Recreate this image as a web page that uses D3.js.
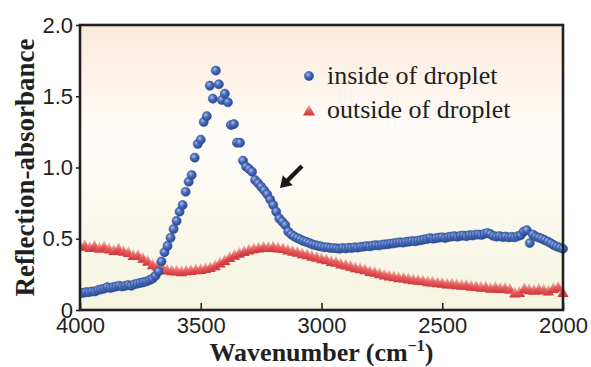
<!DOCTYPE html>
<html><head><meta charset="utf-8">
<script src="https://cdn.jsdelivr.net/npm/d3@7"></script>
<style>
html,body{margin:0;padding:0;background:#fff;}
svg{display:block;}
</style></head>
<body>
<svg id="chart" width="591" height="367"></svg>
<script>
// ---------- data ----------
const xTicks = [4000, 3500, 3000, 2500, 2000];
const yTicks = [0, 0.5, 1.0, 1.5, 2.0];
const yTickLabels = ["0", "0.5", "1.0", "1.5", "2.0"];
const seriesNames = ["inside of droplet", "outside of droplet"];

// inside of droplet: wavenumber grid 4000 -> 2000, step 12.5 cm-1
const insideStart = 4000, insideStep = 12.5;
const insideValues = [
 0.12,0.12,0.125,0.125,0.13,0.13,0.14,0.145,0.15,0.16,
 0.155,0.16,0.165,0.17,0.165,0.17,0.175,0.17,0.18,0.185,
 0.19,0.195,0.2,0.21,0.22,0.24,0.27,0.34,0.405,0.45,
 0.507,0.568,0.625,0.69,0.737,0.83,0.9,0.947,1.069,1.165,
 1.195,1.32,1.36,1.574,1.483,1.68,1.584,1.474,1.518,1.458,
 1.298,1.305,1.174,1.174,1.048,1.006,0.99,0.97,0.912,0.89,
 0.865,0.84,0.812,0.775,0.737,0.69,0.643,0.62,0.596,0.55,
 0.53,0.515,0.505,0.495,0.485,0.478,0.47,0.46,0.455,0.45,
 0.445,0.44,0.44,0.435,0.435,0.433,0.43,0.435,0.432,0.437,
 0.435,0.44,0.438,0.443,0.445,0.449,0.447,0.452,0.455,0.453,
 0.458,0.46,0.462,0.466,0.468,0.472,0.475,0.473,0.478,0.48,
 0.484,0.482,0.487,0.49,0.495,0.498,0.505,0.5,0.505,0.508,
 0.51,0.506,0.512,0.515,0.518,0.514,0.52,0.522,0.518,0.525,
 0.523,0.528,0.53,0.527,0.535,0.54,0.532,0.52,0.515,0.518,
 0.512,0.515,0.51,0.513,0.51,0.518,0.525,0.55,0.56,0.47,
 0.53,0.515,0.508,0.5,0.49,0.48,0.468,0.455,0.445,0.438,
 0.43
];

// outside of droplet: wavenumber grid 4000 -> 2000, step 20 cm-1
const outsideStart = 4000, outsideStep = 20;
const outsideValues = [
 0.455,0.46,0.445,0.455,0.44,0.45,0.435,0.425,0.435,0.42,
 0.41,0.39,0.39,0.37,0.35,0.325,0.315,0.30,0.288,0.282,
 0.28,0.276,0.282,0.285,0.29,0.292,0.298,0.305,0.318,0.336,
 0.355,0.375,0.392,0.405,0.418,0.428,0.436,0.442,0.448,0.445,
 0.45,0.442,0.438,0.428,0.42,0.412,0.402,0.395,0.384,0.377,
 0.366,0.36,0.348,0.342,0.33,0.322,0.314,0.304,0.296,0.29,
 0.278,0.272,0.262,0.252,0.246,0.24,0.234,0.232,0.225,0.22,
 0.216,0.212,0.205,0.203,0.198,0.195,0.19,0.189,0.184,0.18,
 0.18,0.174,0.172,0.166,0.168,0.16,0.165,0.158,0.16,0.152,
 0.126,0.13,0.156,0.15,0.146,0.152,0.148,0.14,0.158,0.166,
 0.13
];

const inside = insideValues.map((v, i) => ({wn: insideStart - insideStep * i, v}));
const outside = outsideValues.map((v, i) => ({wn: outsideStart - outsideStep * i, v}));

// ---------- layout ----------
const M = {left: 80, right: 563, top: 25, bottom: 310};
const svg = d3.select("#chart");
const x = d3.scaleLinear().domain([4000, 2000]).range([M.left, M.right]);
const y = d3.scaleLinear().domain([0, 2]).range([M.bottom, M.top]);

const defs = svg.append("defs");
const bg = defs.append("linearGradient").attr("id", "bg").attr("x1", 0).attr("y1", 0).attr("x2", 0).attr("y2", 1);
bg.append("stop").attr("offset", "0%").attr("stop-color", "#fbeadb");
bg.append("stop").attr("offset", "40%").attr("stop-color", "#fffdfa");
bg.append("stop").attr("offset", "100%").attr("stop-color", "#f5f4df");

const ball = defs.append("radialGradient").attr("id", "ball").attr("cx", "38%").attr("cy", "35%").attr("r", "65%");
ball.append("stop").attr("offset", "0%").attr("stop-color", "#a9bdea");
ball.append("stop").attr("offset", "45%").attr("stop-color", "#4a6cbb");
ball.append("stop").attr("offset", "100%").attr("stop-color", "#2a4a92");

const tri = defs.append("linearGradient").attr("id", "tri").attr("x1", 0).attr("y1", 0).attr("x2", 0).attr("y2", 1);
tri.append("stop").attr("offset", "0%").attr("stop-color", "#f7c4c0");
tri.append("stop").attr("offset", "55%").attr("stop-color", "#e45d5c");
tri.append("stop").attr("offset", "100%").attr("stop-color", "#d2343a");

const clip = defs.append("clipPath").attr("id", "clip");
clip.append("rect").attr("x", M.left).attr("y", M.top - 10).attr("width", M.right - M.left + 8).attr("height", M.bottom - M.top + 10);

// background
svg.append("rect").attr("x", M.left).attr("y", M.top).attr("width", M.right - M.left).attr("height", M.bottom - M.top).attr("fill", "url(#bg)");

// triangles
const TW = 11, TH = 11;
const triPath = `M0,${-TH/2}L${TW/2},${TH/2}L${-TW/2},${TH/2}Z`;
const gPts = svg.append("g").attr("clip-path", "url(#clip)");
gPts.selectAll("path.out").data(outside).join("path").attr("class", "out")
  .attr("d", triPath)
  .attr("transform", d => `translate(${x(d.wn)},${y(d.v)})`)
  .attr("fill", "url(#tri)");

gPts.selectAll("circle.in").data(inside).join("circle").attr("class", "in")
  .attr("cx", d => x(d.wn)).attr("cy", d => y(d.v)).attr("r", 4.6)
  .attr("fill", "url(#ball)").attr("stroke", "#2b4a90").attr("stroke-width", 0.5);

// axes
const xAxis = d3.axisBottom(x).tickValues(xTicks).tickFormat(d3.format("d"))
  .tickSizeInner(-7).tickSizeOuter(0).tickPadding(7.6);
const gx = svg.append("g").attr("transform", `translate(0,${M.bottom})`).call(xAxis);
const yAxis = d3.axisLeft(y).tickValues(yTicks).tickFormat((d, i) => yTickLabels[i])
  .tickSizeInner(4).tickSizeOuter(0).tickPadding(3);
const gy = svg.append("g").attr("transform", `translate(${M.left},0)`).call(yAxis);
[gx, gy].forEach(g => {
  g.select(".domain").remove();
  g.selectAll(".tick line").attr("stroke", "#231f20").attr("stroke-width", 1.6);
  g.selectAll(".tick text").attr("fill", "#231f20")
    .style("font-family", "'Liberation Sans', Arial, sans-serif").style("font-size", "22px");
});

// frame
svg.append("rect").attr("x", M.left).attr("y", M.top).attr("width", M.right - M.left).attr("height", M.bottom - M.top)
  .attr("fill", "none").attr("stroke", "#231f20").attr("stroke-width", 2.6);

// axis titles
svg.append("text").attr("transform", `translate(34,${(M.top + M.bottom) / 2}) rotate(-90)`)
  .attr("text-anchor", "middle").attr("fill", "#231f20")
  .style("font-family", "'Liberation Serif', 'Times New Roman', serif").style("font-weight", "bold").style("font-size", "27px")
  .text("Reflection-absorbance");

const xt = svg.append("text").attr("x", (M.left + M.right) / 2).attr("y", 361.2).attr("text-anchor", "middle").attr("fill", "#231f20")
  .style("font-family", "'Liberation Serif', 'Times New Roman', serif").style("font-weight", "bold").style("font-size", "26px");
xt.append("tspan").text("Wavenumber (cm");
xt.append("tspan").attr("dy", -10).style("font-size", "16px").text("\u22121");
xt.append("tspan").attr("dy", 10).text(")");

// legend
const leg = svg.append("g");
const legItems = [{name: seriesNames[0], y: 76}, {name: seriesNames[1], y: 110}];
leg.append("circle").attr("cx", 309).attr("cy", legItems[0].y).attr("r", 4.6)
  .attr("fill", "url(#ball)").attr("stroke", "#2b4a90").attr("stroke-width", 0.5);
leg.append("path").attr("d", `M0,-5.5L6,5.5L-6,5.5Z`).attr("transform", `translate(309,${legItems[1].y})`).attr("fill", "url(#tri)");
leg.selectAll("text").data(legItems).join("text")
  .attr("x", 327).attr("y", d => d.y + 7.5).attr("fill", "#231f20")
  .style("font-family", "'Liberation Serif', 'Times New Roman', serif").style("font-size", "26px")
  .text(d => d.name);

// arrow
const ax0 = 302, ay0 = 166, ax1 = 280, ay1 = 188;
const ang = Math.atan2(ay1 - ay0, ax1 - ax0);
const L = Math.hypot(ax1 - ax0, ay1 - ay0);
const arrow = svg.append("g").attr("transform", `translate(${ax0},${ay0}) rotate(${ang * 180 / Math.PI})`);
arrow.append("path")
  .attr("d", `M0,-2.2L${L - 11},-2.2L${L - 11},-7L${L},0L${L - 11},7L${L - 11},2.2L0,2.2Z`)
  .attr("fill", "#1a1a1a");
</script>
</body></html>
